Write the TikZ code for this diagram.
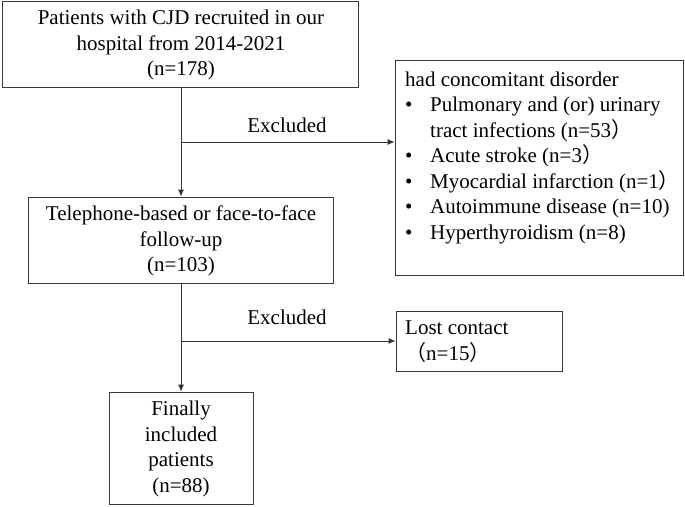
\documentclass[tikz,border=0pt]{standalone}
\usepackage{fontspec}
\setmainfont{Liberation Serif}
\newfontfamily\cjk{Noto Sans CJK SC}
\usetikzlibrary{arrows.meta}
\newcommand{\fwl}{{\cjk （}}
\newcommand{\fwr}{{\cjk ）}}
\begin{document}
\begin{tikzpicture}[x=1pt,y=-1pt,
  box/.style={draw=black!78, line width=0.9pt, rectangle, inner sep=0pt},
  txt/.style={font=\fontsize{21}{25.5}\selectfont, inner sep=0pt},
  conn/.style={draw=black!80, line width=0.9pt},
  arr/.style={conn, -{Latex[length=7pt,width=6pt]}}]
\useasboundingbox (0,0) rectangle (685,506);
% boxes
\node[box, minimum width=356pt, minimum height=86pt] (b1) at (180,44) {};
\node[txt, align=center] (t1) at (181,45) {Patients with CJD recruited in our\\hospital from 2014-2021\\(n=178)};
\node[box, minimum width=305pt, minimum height=86pt] (b2) at (180.5,240) {};
\node[txt, align=center] (t2) at (181,241) {Telephone-based or face-to-face\\follow-up\\(n=103)};
\node[box, minimum width=288pt, minimum height=215pt] (b3) at (539,167.5) {};
\node[txt, align=left, anchor=north west] (t3) at (405,71.5) {had concomitant disorder\\
\makebox[25pt][l]{•}Pulmonary and (or) urinary\\
\hspace*{25pt}tract infections (n=53\fwr\\
\makebox[25pt][l]{•}Acute stroke (n=3\fwr\\
\makebox[25pt][l]{•}Myocardial infarction (n=1\fwr\\
\makebox[25pt][l]{•}Autoimmune disease (n=10)\\
\makebox[25pt][l]{•}Hyperthyroidism (n=8)};
\node[box, minimum width=144pt, minimum height=112pt] (b4) at (181,448) {};
\node[txt, align=center] (t4) at (181,449) {Finally\\included\\patients\\(n=88)};
\node[box, minimum width=166pt, minimum height=60pt] (b5) at (479,341) {};
\node[txt, align=left, anchor=north west] (t5) at (405,321) {Lost contact\\\fwl n=15\fwr};
% connectors
\coordinate (j1) at (181,142);
\coordinate (j2) at (181,341);
\draw[arr] (b1.south -| j1) -- (b2.north -| j1);
\draw[arr] (j1) -- (j1 -| b3.west);
\draw[arr] (b2.south -| j2) -- (b4.north -| j2);
\draw[arr] (j2) -- (b5.west);
\node[txt] (e1) at (287,125) {Excluded};
\node[txt] (e2) at (287,317) {Excluded};
\end{tikzpicture}
\end{document}
